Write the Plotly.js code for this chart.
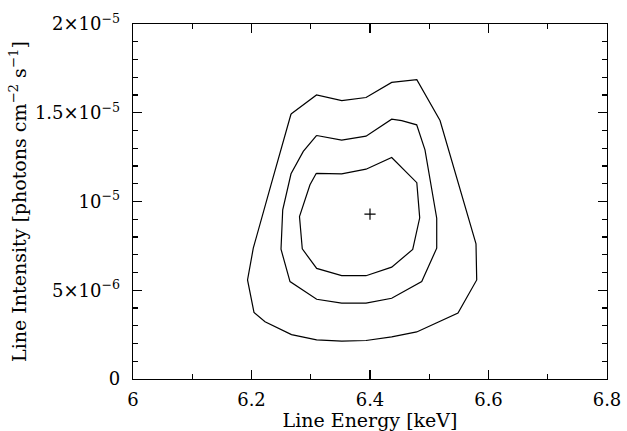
<!DOCTYPE html>
<html>
<head>
<meta charset="utf-8">
<script src="https://cdn.plot.ly/plotly-3.0.1.min.js"></script>
<style>html,body{margin:0;padding:0;background:#fff;}#chart{width:627px;height:431px;}</style>
</head>
<body>
<div id="chart"></div>
<script>
// Confidence contours: line energy [keV] vs line intensity [photons cm^-2 s^-1]
const outerE = [6.2667, 6.3097, 6.3524, 6.3933, 6.4366, 6.4790, 6.5182, 6.5789, 6.5801, 6.5485, 6.4788, 6.4366, 6.3933, 6.3524, 6.3099, 6.2675, 6.2228, 6.2042, 6.1933, 6.2030, 6.2329, 6.2667];
const outerI = [14.93e-6, 16.00e-6, 15.68e-6, 15.86e-6, 16.71e-6, 16.86e-6, 14.56e-6, 7.61e-6, 5.58e-6, 3.72e-6, 2.65e-6, 2.37e-6, 2.17e-6, 2.13e-6, 2.20e-6, 2.50e-6, 3.23e-6, 3.75e-6, 5.58e-6, 7.37e-6, 10.94e-6, 14.93e-6];

const middleE = [6.3100, 6.3522, 6.3933, 6.4366, 6.4535, 6.4788, 6.4928, 6.5126, 6.5126, 6.4873, 6.4366, 6.3933, 6.3522, 6.3100, 6.2650, 6.2498, 6.2527, 6.2667, 6.2874, 6.3100];
const middleI = [13.72e-6, 13.46e-6, 13.68e-6, 14.64e-6, 14.56e-6, 14.32e-6, 12.91e-6, 9.06e-6, 7.37e-6, 5.49e-6, 4.55e-6, 4.27e-6, 4.27e-6, 4.49e-6, 5.49e-6, 7.31e-6, 9.53e-6, 11.56e-6, 12.82e-6, 13.72e-6];

const innerE = [6.3094, 6.3522, 6.3933, 6.4366, 6.4790, 6.4839, 6.4721, 6.4366, 6.3933, 6.3522, 6.3100, 6.2857, 6.2810, 6.2987, 6.3094];
const innerI = [11.59e-6, 11.56e-6, 11.82e-6, 12.48e-6, 11.06e-6, 9.08e-6, 7.30e-6, 6.30e-6, 5.82e-6, 5.82e-6, 6.23e-6, 7.33e-6, 9.15e-6, 10.94e-6, 11.59e-6];

const bestE = [6.40];
const bestI = [9.29e-6];

const yTickVals = [0, 5e-6, 1e-5, 1.5e-5, 2e-5];
const yTickText = ['0', '5×10<sup>−6</sup>', '10<sup>−5</sup>', '1.5×10<sup>−5</sup>', '2×10<sup>−5</sup>'];
const xTickVals = [6, 6.2, 6.4, 6.6, 6.8];
const xTickText = ['6', '6.2', '6.4', '6.6', '6.8'];

const lineStyle = {color: '#000', width: 1.2};
const traces = [
  {x: outerE, y: outerI, mode: 'lines', line: lineStyle, hoverinfo: 'skip'},
  {x: middleE, y: middleI, mode: 'lines', line: lineStyle, hoverinfo: 'skip'},
  {x: innerE, y: innerI, mode: 'lines', line: lineStyle, hoverinfo: 'skip'},
  {x: bestE, y: bestI, mode: 'markers', marker: {symbol: 'cross-thin', size: 8, line: {color: '#000', width: 1.2}}, hoverinfo: 'skip'}
];

const tickFont = {family: 'DejaVu Serif, serif', size: 18, color: '#000'};
const titleFontX = {family: 'DejaVu Serif, serif', size: 19, color: '#000'};
const titleFontY = {family: 'DejaVu Serif, serif', size: 19, color: '#000'};
const layout = {
  width: 627, height: 431,
  margin: {l: 133, r: 20, t: 24, b: 52},
  paper_bgcolor: '#fff', plot_bgcolor: '#fff',
  showlegend: false,
  font: tickFont,
  xaxis: {
    range: [6, 6.8],
    tickmode: 'array', tickvals: xTickVals, ticktext: xTickText,
    ticks: 'inside', ticklen: 9, tickwidth: 1.2, tickcolor: '#000',
    minor: {tickmode: 'linear', tick0: 6, dtick: 0.1, ticks: 'inside', ticklen: 5, tickwidth: 1.2, tickcolor: '#000', showgrid: false},
    mirror: 'allticks', showline: true, linecolor: '#000', linewidth: 1.3,
    showgrid: false, zeroline: false,
    ticklabelstandoff: 4,
    tickfont: tickFont,
    title: {text: 'Line Energy [keV]', font: titleFontX, standoff: 2}
  },
  yaxis: {
    range: [0, 2e-5],
    tickmode: 'array', tickvals: yTickVals, ticktext: yTickText,
    ticks: 'inside', ticklen: 9, tickwidth: 1.2, tickcolor: '#000',
    minor: {tickmode: 'linear', tick0: 0, dtick: 1e-6, ticks: 'inside', ticklen: 5, tickwidth: 1.2, tickcolor: '#000', showgrid: false},
    mirror: 'allticks', showline: true, linecolor: '#000', linewidth: 1.3,
    showgrid: false, zeroline: false,
    ticklabelstandoff: 8,
    tickfont: tickFont,
    title: {text: 'Line Intensity [photons cm<sup>−2</sup> s<sup>−1</sup>]', font: titleFontY, standoff: 3}
  }
};

Plotly.newPlot('chart', traces, layout, {staticPlot: true, displayModeBar: false});
</script>
</body>
</html>
